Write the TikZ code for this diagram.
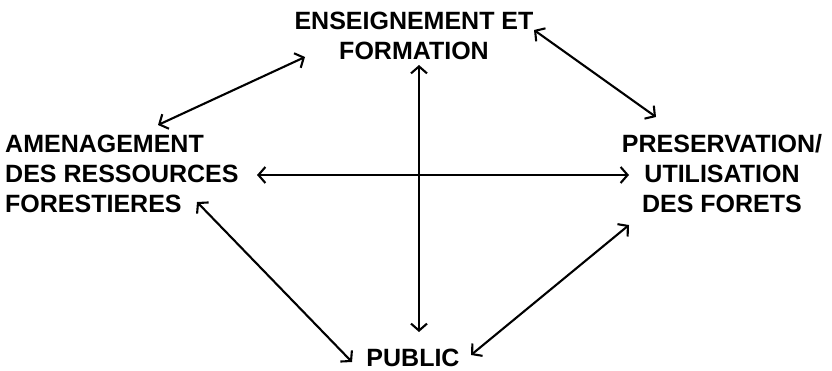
\documentclass[tikz,border=0pt]{standalone}
\usepackage{fontspec}
\setmainfont{Liberation Sans}
\usetikzlibrary{arrows.meta,calc}
\begin{document}
\begin{tikzpicture}[x=1pt,y=-1pt,
  lbl/.style={inner sep=0pt,font=\fontsize{25}{30}\selectfont\bfseries},
  link/.style={line width=2.1pt,{Straight Barb[length=7pt,width=16pt]}-{Straight Barb[length=7pt,width=16pt]}}]
\useasboundingbox (0,0) rectangle (832,371);
\node[lbl,align=center] (ens) at (414,35.5) {ENSEIGNEMENT ET\\FORMATION};
\node[lbl,align=left,anchor=west] (amen) at (5,174) {AMENAGEMENT\\DES RESSOURCES\\FORESTIERES};
\node[lbl,align=center] (pres) at (722,174) {PRESERVATION/\\UTILISATION\\DES FORETS};
\node[lbl] (pub) at (413,358) {PUBLIC};
\draw[link] ($(ens.center)+(-109,21.5)$) -- ($(amen.west)+(153,-49)$);
\draw[link] ($(ens.center)+(120,-5.5)$) -- ($(pres.center)+(-66,-57)$);
\draw[link] ($(ens.center)+(5,29.5)$) -- ($(pub.center)+(6,-26)$);
\draw[link] ($(amen.west)+(252,1)$) -- ($(pres.center)+(-93,1)$);
\draw[link] ($(amen.west)+(192,28)$) -- ($(pub.center)+(-61,4)$);
\draw[link] ($(pres.center)+(-93,51)$) -- ($(pub.center)+(58,-3)$);
\end{tikzpicture}
\end{document}
